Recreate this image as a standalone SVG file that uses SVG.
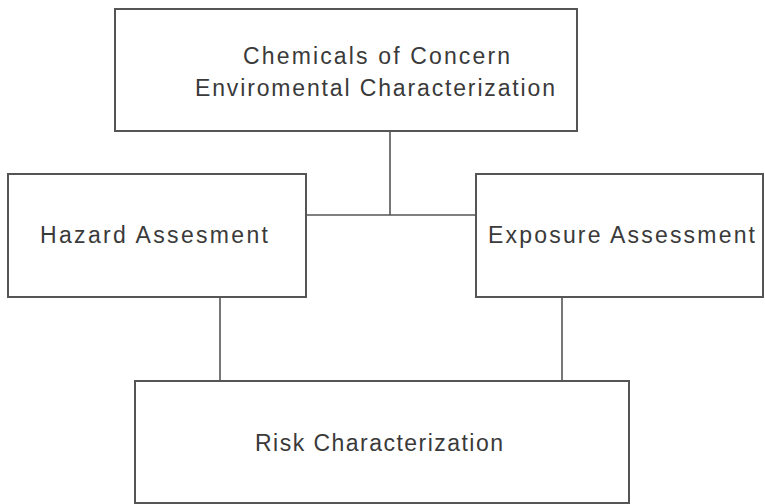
<svg xmlns="http://www.w3.org/2000/svg" width="765" height="504" viewBox="0 0 765 504">
<style>
.box{fill:#fff;stroke:#555;stroke-width:2}
.conn{stroke:#555;stroke-width:1.6;fill:none}
.t{font-family:"Liberation Sans",Arial,sans-serif;font-size:23px;fill:#3a3a3a}
</style>
<rect width="765" height="504" fill="#fff"/>
<g id="connectors">
<line class="conn" x1="390" y1="131" x2="390" y2="215"/>
<line class="conn" x1="306" y1="215" x2="476" y2="215"/>
<line class="conn" x1="220" y1="297" x2="220" y2="381"/>
<line class="conn" x1="562" y1="297" x2="562" y2="381"/>
</g>
<g id="chemicals">
<rect class="box" x="115" y="9" width="462" height="122"/>
<text class="t" x="243" y="64" textLength="267" lengthAdjust="spacing">Chemicals of Concern</text>
<text class="t" x="195" y="96" textLength="360" lengthAdjust="spacing">Enviromental Characterization</text>
</g>
<g id="hazard">
<rect class="box" x="8" y="174" width="298" height="123"/>
<text class="t" x="40" y="243" textLength="228" lengthAdjust="spacing">Hazard Assesment</text>
</g>
<g id="exposure">
<rect class="box" x="476" y="174" width="287" height="123"/>
<text class="t" x="488" y="243" textLength="267" lengthAdjust="spacing">Exposure Assessment</text>
</g>
<g id="risk">
<rect class="box" x="135" y="381" width="494" height="122"/>
<text class="t" x="255" y="451" textLength="248" lengthAdjust="spacing">Risk Characterization</text>
</g>
</svg>
